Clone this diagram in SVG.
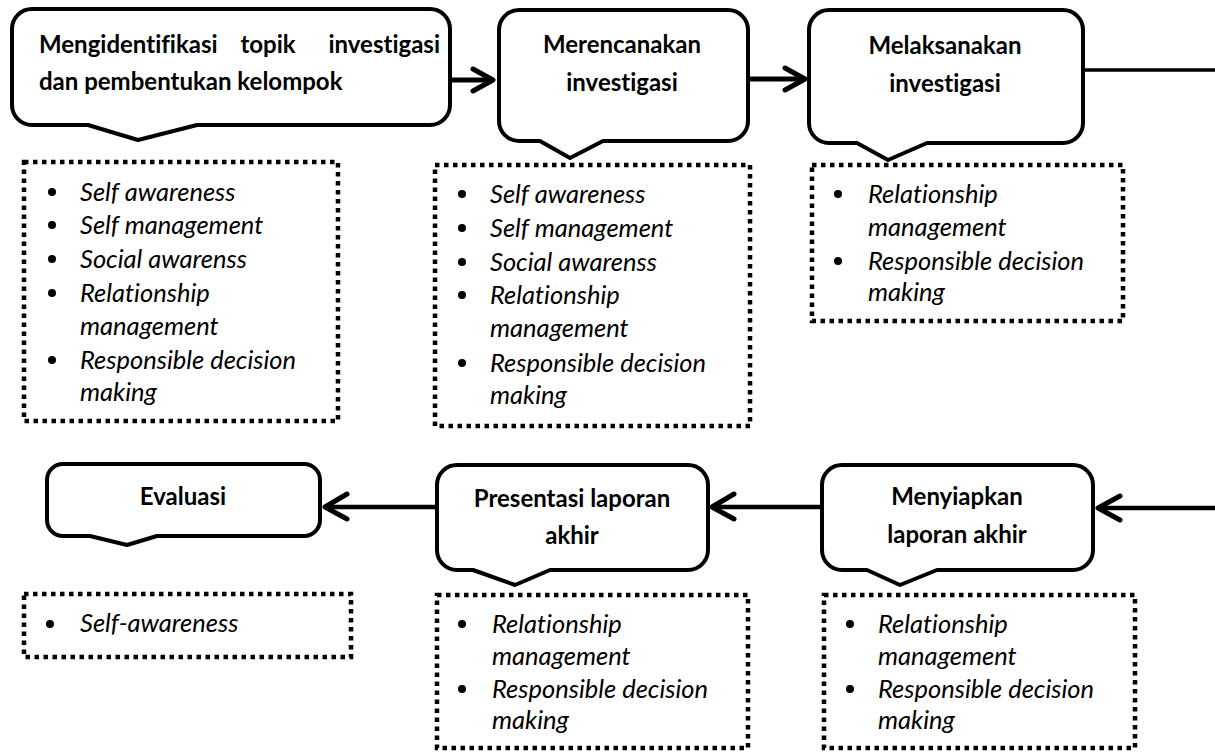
<svg xmlns="http://www.w3.org/2000/svg" width="1215" height="755" viewBox="0 0 1215 755">
<style>
.call{fill:#fff;stroke:#000;stroke-width:4;stroke-linejoin:round}
.dot{fill:none;stroke:#000;stroke-width:4.5;stroke-dasharray:4.5 4.5}
.t{font-family:Lato,"Liberation Sans",sans-serif;font-weight:bold;font-size:24px;fill:#000;text-anchor:middle;font-variant-ligatures:none}
.i{font-family:Lato,"Liberation Sans",sans-serif;font-style:italic;font-size:25.5px;fill:#000;font-variant-ligatures:none}
.b{fill:#000}
.ln{fill:none;stroke:#000;stroke-width:5;stroke-linecap:butt}
.hd{fill:none;stroke:#000;stroke-width:5;stroke-linecap:round;stroke-linejoin:round}
</style>
<rect width="1215" height="755" fill="#fff"/>
<g id="connectors">
<line class="ln" x1="450" y1="80" x2="492" y2="80"/>
<polyline class="hd" points="473,69 493,80 473,91"/>
<line class="ln" x1="748" y1="79" x2="804" y2="79"/>
<polyline class="hd" points="785,68 805,79 785,90"/>
<line class="ln" style="stroke-width:3.5" x1="1083" y1="70" x2="1215" y2="70"/>
<line class="ln" style="stroke-width:4.5" x1="1215" y1="508" x2="1099" y2="508"/>
<polyline class="hd" points="1120,496 1098,508 1120,520"/>
<line class="ln" style="stroke-width:4.5" x1="822" y1="507" x2="713" y2="507"/>
<polyline class="hd" points="734,494 712,507 734,519"/>
<line class="ln" style="stroke-width:4.5" x1="437" y1="507" x2="326" y2="507"/>
<polyline class="hd" points="347,494 325,507 347,519"/>
</g>
<g id="n1">
<path class="call" d="M32,9 H430 A20,20 0 0 1 450,29 V105 A20,20 0 0 1 430,125 H197 L138,140 L88,125 H32 A20,20 0 0 1 12,105 V29 A20,20 0 0 1 32,9 Z"/>
<text class="t" style="text-anchor:start" x="39" y="53">Mengidentifikasi</text>
<text class="t" x="268" y="53">topik</text>
<text class="t" style="text-anchor:end" x="440" y="53">investigasi</text>
<text class="t" style="text-anchor:start" x="39" y="90">dan pembentukan kelompok</text>
</g>
<g id="n2">
<path class="call" d="M519,10 H728 A20,20 0 0 1 748,30 V121 A20,20 0 0 1 728,141 H603 L570,158 L540,141 H519 A20,20 0 0 1 499,121 V30 A20,20 0 0 1 519,10 Z"/>
<text class="t" x="622" y="53">Merencanakan</text>
<text class="t" x="622" y="91">investigasi</text>
</g>
<g id="n3">
<path class="call" d="M829,10 H1063 A20,20 0 0 1 1083,30 V123 A20,20 0 0 1 1063,143 H927 L888,160 L857,143 H829 A20,20 0 0 1 809,123 V30 A20,20 0 0 1 829,10 Z"/>
<text class="t" x="945" y="54">Melaksanakan</text>
<text class="t" x="945" y="92">investigasi</text>
</g>
<g id="n4">
<path class="call" d="M842,465 H1073 A20,20 0 0 1 1093,485 V550 A20,20 0 0 1 1073,570 H937 L900,585 L867,570 H842 A20,20 0 0 1 822,550 V485 A20,20 0 0 1 842,465 Z"/>
<text class="t" x="957" y="505">Menyiapkan</text>
<text class="t" x="957" y="543">laporan akhir</text>
</g>
<g id="n5">
<path class="call" d="M457,465 H688 A20,20 0 0 1 708,485 V550 A20,20 0 0 1 688,570 H550 L515,585 L473,570 H457 A20,20 0 0 1 437,550 V485 A20,20 0 0 1 457,465 Z"/>
<text class="t" x="572" y="507">Presentasi laporan</text>
<text class="t" x="572" y="544">akhir</text>
</g>
<g id="n6">
<path class="call" d="M63,464 H304 A16,16 0 0 1 320,480 V520 A16,16 0 0 1 304,536 H157 L127,545 L90,536 H63 A16,16 0 0 1 47,520 V480 A16,16 0 0 1 63,464 Z"/>
<text class="t" x="183" y="505">Evaluasi</text>
</g>
<g id="b1">
<rect class="dot" x="24" y="162" width="314" height="259"/>
<circle class="b" cx="52" cy="192" r="4"/>
<text class="i" x="80" y="201">Self awareness</text>
<circle class="b" cx="52" cy="225" r="4"/>
<text class="i" x="80" y="234">Self management</text>
<circle class="b" cx="52" cy="259" r="4"/>
<text class="i" x="80" y="268">Social awarenss</text>
<circle class="b" cx="52" cy="293" r="4"/>
<text class="i" x="80" y="302">Relationship</text>
<text class="i" x="80" y="335">management</text>
<circle class="b" cx="52" cy="360" r="4"/>
<text class="i" x="80" y="369">Responsible decision</text>
<text class="i" x="80" y="401">making</text>
</g>
<g id="b2">
<rect class="dot" x="435" y="165" width="315" height="261"/>
<circle class="b" cx="462" cy="194" r="4"/>
<text class="i" x="490" y="203">Self awareness</text>
<circle class="b" cx="462" cy="228" r="4"/>
<text class="i" x="490" y="237">Self management</text>
<circle class="b" cx="462" cy="262" r="4"/>
<text class="i" x="490" y="271">Social awarenss</text>
<circle class="b" cx="462" cy="295" r="4"/>
<text class="i" x="490" y="304">Relationship</text>
<text class="i" x="490" y="337">management</text>
<circle class="b" cx="462" cy="363" r="4"/>
<text class="i" x="490" y="372">Responsible decision</text>
<text class="i" x="490" y="404">making</text>
</g>
<g id="b3">
<rect class="dot" x="812" y="165" width="311" height="156"/>
<circle class="b" cx="838" cy="194" r="4"/>
<text class="i" x="868" y="203">Relationship</text>
<text class="i" x="868" y="236">management</text>
<circle class="b" cx="838" cy="261" r="4"/>
<text class="i" x="868" y="270">Responsible decision</text>
<text class="i" x="868" y="301">making</text>
</g>
<g id="b4">
<rect class="dot" x="24" y="594" width="327" height="63"/>
<circle class="b" cx="50" cy="624" r="4"/>
<text class="i" x="80" y="632">Self-awareness</text>
</g>
<g id="b5">
<rect class="dot" x="437" y="595" width="311" height="153"/>
<circle class="b" cx="462" cy="624" r="4"/>
<text class="i" x="492" y="633">Relationship</text>
<text class="i" x="492" y="665">management</text>
<circle class="b" cx="462" cy="689" r="4"/>
<text class="i" x="492" y="698">Responsible decision</text>
<text class="i" x="492" y="729">making</text>
</g>
<g id="b6">
<rect class="dot" x="824" y="595" width="311" height="153"/>
<circle class="b" cx="850" cy="624" r="4"/>
<text class="i" x="878" y="633">Relationship</text>
<text class="i" x="878" y="665">management</text>
<circle class="b" cx="850" cy="689" r="4"/>
<text class="i" x="878" y="698">Responsible decision</text>
<text class="i" x="878" y="729">making</text>
</g>
</svg>
